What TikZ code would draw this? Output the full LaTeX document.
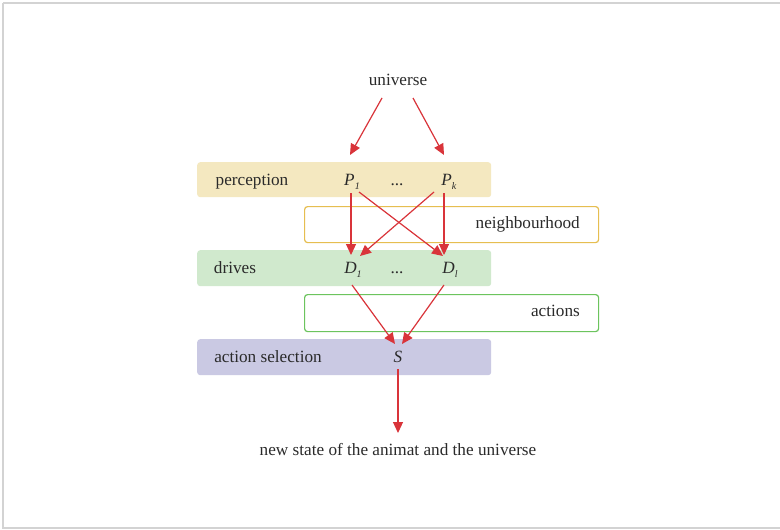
\documentclass[tikz,border=0pt]{standalone}
\usepackage{fontspec}
\setmainfont{Liberation Serif}
\usetikzlibrary{arrows.meta}
\definecolor{arr}{HTML}{D9343A}
\definecolor{percfill}{HTML}{F4E8C0}
\definecolor{drvfill}{HTML}{D0E9CD}
\definecolor{selfill}{HTML}{CAC9E3}
\definecolor{nbdraw}{HTML}{E6BE50}
\definecolor{actdraw}{HTML}{6CC45E}
\definecolor{frame}{HTML}{D3D3D3}
\definecolor{txt}{HTML}{2A2A2A}
\newcommand{\sub}[2]{\textit{#1}\raisebox{-0.55ex}{\fontsize{10}{11}\selectfont\textit{#2}}}
\begin{document}
\begin{tikzpicture}[x=1pt,y=-1pt,
  every node/.style={font=\fontsize{17.2}{20}\selectfont, text=txt},
  band/.style={rounded corners=3pt, inner sep=0},
  con/.style={draw=arr, line width=1.2pt, -{Triangle[length=11pt,width=10pt]}},
  lbl/.style={inner sep=0, anchor=base}]
\useasboundingbox (0,0) rectangle (780,530);
\fill[white] (0,0) rectangle (780,530);
\draw[frame, line width=2pt] (3,3) -- (3,528) -- (790,528);
\draw[frame, line width=2pt] (3,3) -- (790,3);
% bands
\node[band, fill=percfill, minimum width=294pt, minimum height=35pt, anchor=north west] (perc) at (197,162) {};
\node[band, draw=nbdraw, line width=1.2pt, fill=white, minimum width=294pt, minimum height=36pt, anchor=north west] (nb) at (304,206) {};
\node[band, fill=drvfill, minimum width=294pt, minimum height=36pt, anchor=north west] (drv) at (197,250) {};
\node[band, draw=actdraw, line width=1.2pt, fill=white, minimum width=294pt, minimum height=37pt, anchor=north west] (act) at (304,294) {};
\node[band, fill=selfill, minimum width=294pt, minimum height=36pt, anchor=north west] (sel) at (197,339) {};
% labels
\node[lbl] (lperc) at (252,185) {perception};
\node[lbl, anchor=base east] (lnb) at (580,228) {neighbourhood};
\node[lbl] (ldrv) at (235,273) {drives};
\node[lbl, anchor=base east] (lact) at (580,316) {actions};
\node[lbl] (lsel) at (268,362) {action selection};
\node[lbl] (univ) at (398,85) {universe};
\node[lbl] (news) at (398,455) {new state of the animat and the universe};
% variables
\node[lbl] (P1) at (352,185) {\sub{P}{1}};
\node[lbl] (pd) at (397,185) {...};
\node[lbl] (Pk) at (449,185) {\sub{P}{k}};
\node[lbl] (D1) at (353,273) {\sub{D}{1}};
\node[lbl] (dd) at (397,273) {...};
\node[lbl] (Dl) at (450,273) {\sub{D}{l}};
\node[lbl] (S) at (398,362) {\textit{S}};
% anchor coordinates
\coordinate (u1) at (382,98);
\coordinate (u2) at (413,98);
\coordinate (p1in) at (350,155);
\coordinate (pkin) at (444,155);
\coordinate (p1a) at (351,193);
\coordinate (p1b) at (359,192);
\coordinate (pka) at (434,192);
\coordinate (pkb) at (444,193);
\coordinate (d1a) at (351,255);
\coordinate (d1b) at (360,256);
\coordinate (dla) at (443,256);
\coordinate (dlb) at (444,255);
\coordinate (d1o) at (352,285);
\coordinate (dlo) at (444,285);
\coordinate (sa) at (395,344);
\coordinate (sb) at (402,344);
\coordinate (so) at (398,369);
\coordinate (no) at (398,433);
% connectors
\draw[con] (u1) -- (p1in);
\draw[con] (u2) -- (pkin);
\draw[con] (p1a) -- (d1a);
\draw[con] (p1b) -- (dla);
\draw[con] (pka) -- (d1b);
\draw[con] (pkb) -- (dlb);
\draw[con] (d1o) -- (sa);
\draw[con] (dlo) -- (sb);
\draw[con] (so) -- (no);
\end{tikzpicture}
\end{document}
